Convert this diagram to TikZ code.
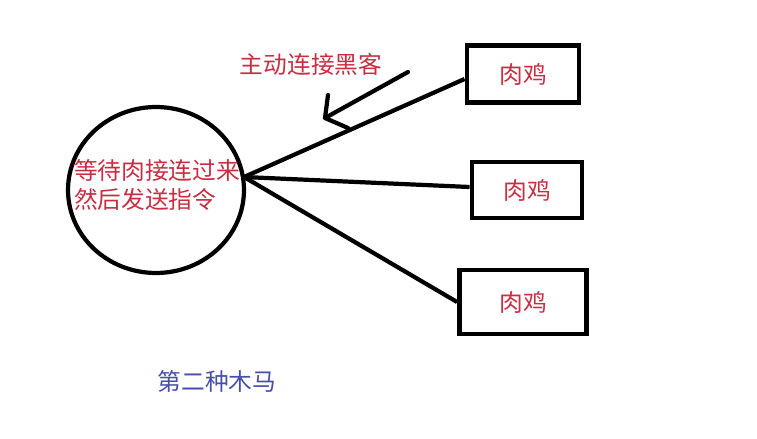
\documentclass[tikz,border=0pt]{standalone}
\usepackage{fontspec}
\newfontfamily\cjk{Noto Sans CJK SC}
\usetikzlibrary{shapes.geometric}
\definecolor{labelred}{RGB}{200,45,65}
\definecolor{titleblue}{RGB}{70,80,165}

\begin{document}
\begin{tikzpicture}[x=0.02cm,y=-0.02cm,line width=2.4pt,
    every node/.style={font=\cjk\fontsize{13.5}{16}\selectfont},
    zombie/.style={draw,rectangle,line width=2.8pt,text=labelred}]
  \useasboundingbox (0,0) rectangle (757,439);

  % control side: waiting circle
  \node[draw,ellipse,minimum width=3.52cm,minimum height=3.32cm] (ctrl) at (156,190) {};
  \node[anchor=west,align=left,text=labelred,inner sep=0pt] (ctrltext) at (72,185)
    {等待肉接连过来\\然后发送指令};
  \coordinate (hub) at (244,177);

  % the three zombies
  \node[zombie,minimum width=2.24cm,minimum height=1.14cm] (bot1) at (523,74) {肉鸡};
  \node[zombie,minimum width=2.2cm,minimum height=1.12cm] (bot2) at (527,190) {肉鸡};
  \node[zombie,minimum width=2.54cm,minimum height=1.28cm] (bot3) at (523,302) {肉鸡};
  \draw (hub) -- ([yshift=-0.1cm]bot1.west);
  \draw (hub) -- ([yshift=0.06cm]bot2.west);
  \draw (hub) -- (bot3.west);

  % reverse connection arrow, hand drawn
  \coordinate (tail) at (408,72);
  \coordinate (tip) at (325,118);
  \coordinate (barbup) at (328,95);
  \coordinate (barblow) at (348,128);
  \draw[line cap=round] (tail) -- (tip);
  \draw[line cap=round,line join=round] (barbup) -- (tip) -- (barblow);
  \node[text=labelred] (reverse) at (311,64) {主动连接黑客};

  \node[text=titleblue] (title) at (217,381) {第二种木马};
\end{tikzpicture}
\end{document}
